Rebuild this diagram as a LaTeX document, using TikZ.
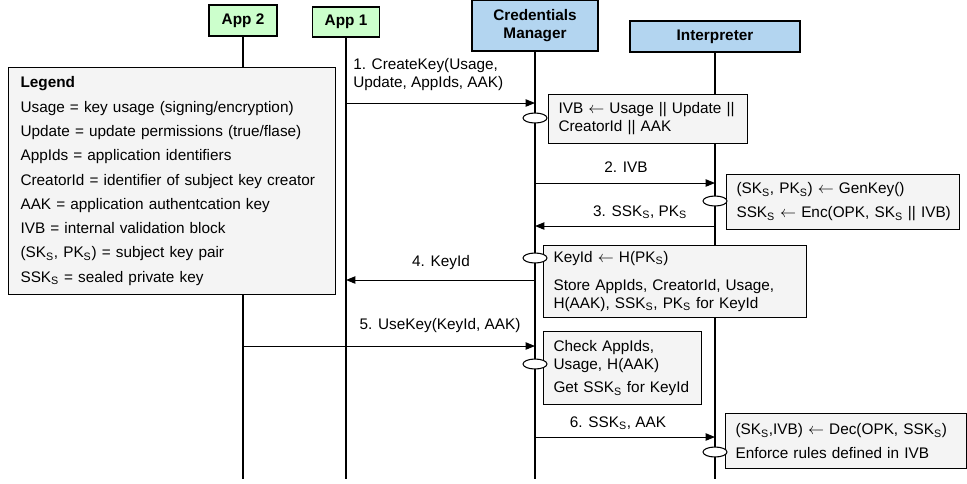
\documentclass[tikz,border=0pt]{standalone}
\usepackage{fontspec}
\setmainfont{Liberation Sans}
\usetikzlibrary{arrows.meta,shapes.geometric}
\definecolor{appgreen}{HTML}{CCFFCC}
\definecolor{mgrblue}{HTML}{B3D5F0}
\definecolor{boxgray}{HTML}{F4F4F4}
\hyphenpenalty=10000
\hfuzz=20pt
\newcommand{\ksub}[1]{\textsubscript{#1}}
\newcommand{\getsarrow}{$\leftarrow$}
\newcommand{\diagfont}{\fontsize{11.5}{13.5}\selectfont}
\tikzset{
  actor/.style={draw, line width=0.9pt, font=\diagfont\bfseries, align=center, inner sep=0pt},
  lifeline/.style={line width=1.5pt},
  actbox/.style={draw, line width=0.8pt, fill=boxgray, align=left, inner xsep=7.5pt, inner ysep=0pt, anchor=north west},
  exec/.style={draw, ellipse, fill=white, line width=0.8pt, minimum width=18pt, minimum height=7.5pt, inner sep=0pt},
  msg/.style={line width=0.75pt, -{Triangle[length=7pt,width=5.5pt]}},
  lbl/.style={inner sep=0pt, align=center},
}
\begin{document}
\begin{tikzpicture}[x=0.75pt, y=-0.75pt, font=\diagfont]
\useasboundingbox (0,0) rectangle (967,483);
% participants
\node[actor, fill=appgreen, minimum width=51pt, minimum height=23.25pt] (app2) at (243,20.5) {App 2};
\node[actor, fill=appgreen, minimum width=50.25pt, minimum height=22.5pt] (app1) at (346,22) {App 1};
\node[actor, fill=mgrblue, minimum width=94.5pt, minimum height=38.25pt] (cm) at (535,25.5) {Credentials\\Manager};
\node[actor, fill=mgrblue, minimum width=127.5pt, minimum height=23.25pt] (interp) at (715,36.5) {Interpreter};
\foreach \n in {app2, app1, cm, interp} {
    \draw[lifeline] (\n.south) -- (\n |- 0,479);
}
% legend
\node[actbox, inner xsep=9pt, text width=227.25pt, minimum height=170.25pt, font=\fontsize{11.5}{18.2}\selectfont] (legend) at (8,67) {%
\textbf{Legend}\\
Usage = key usage (signing/encryption)\\
Update = update permissions (true/flase)\\
AppIds = application identifiers\\
CreatorId = identifier of subject key creator\\
AAK = application authentcation key\\
IVB = internal validation block\\
(SK\ksub{S}, PK\ksub{S}) = subject key pair\\
SSK\ksub{S} = sealed private key};
% actions
\node[actbox, text width=134.25pt, minimum height=36.75pt] (b1) at (548,94) {IVB~\getsarrow{}~Usage~||~Update~||\\CreatorId || AAK};
\node[actbox, text width=159.75pt, minimum height=41.25pt] (b2) at (726,174) {(SK\ksub{S}, PK\ksub{S}) \getsarrow{} GenKey()\\[4.5pt]SSK\ksub{S}~\getsarrow{}~Enc(OPK,~SK\ksub{S}~||~IVB)};
\node[actbox, text width=182.25pt, minimum height=54pt] (b3) at (543,245) {KeyId \getsarrow{} H(PK\ksub{S})\\[7.5pt]Store AppIds, CreatorId, Usage,\\H(AAK), SSK\ksub{S}, PK\ksub{S} for KeyId};
\node[actbox, text width=103.5pt, minimum height=54.75pt] (b4) at (543,331) {Check AppIds,\\Usage, H(AAK)\\[4pt]Get SSK\ksub{S} for KeyId};
\node[actbox, text width=165.75pt, minimum height=41.25pt] (b5) at (725,413) {(SK\ksub{S},IVB)~\getsarrow{}~Dec(OPK,~SSK\ksub{S})\\[4pt]Enforce rules defined in IVB};
% messages
\draw[msg] (app1 |- 0,103) -- (cm |- 0,103);
\draw[msg] (cm |- 0,183) -- (interp |- 0,183);
\draw[msg] (interp |- 0,226) -- (cm |- 0,226);
\draw[msg] (cm |- 0,280) -- (app1 |- 0,280);
\draw[msg] (app2 |- 0,346) -- (cm |- 0,346);
\draw[msg] (cm |- 0,437) -- (interp |- 0,437);
\node[lbl, align=left, anchor=west] (l1) at (353,75) {1. CreateKey(Usage,\\Update, AppIds, AAK)};
\node[lbl] (l2) at (626,167) {2. IVB};
\node[lbl] (l3) at (640,212) {3. SSK\ksub{S}, PK\ksub{S}};
\node[lbl] (l4) at (441,263) {4. KeyId};
\node[lbl] (l5) at (440,326) {5. UseKey(KeyId, AAK)};
\node[lbl] (l6) at (618,423) {6. SSK\ksub{S}, AAK};
% execution marks
\node[exec] (e1) at (cm |- 0,118) {};
\node[exec] (e2) at (interp |- 0,201) {};
\node[exec] (e3) at (cm |- 0,258) {};
\node[exec] (e4) at (cm |- 0,364) {};
\node[exec] (e5) at (interp |- 0,452) {};
\end{tikzpicture}
\end{document}
